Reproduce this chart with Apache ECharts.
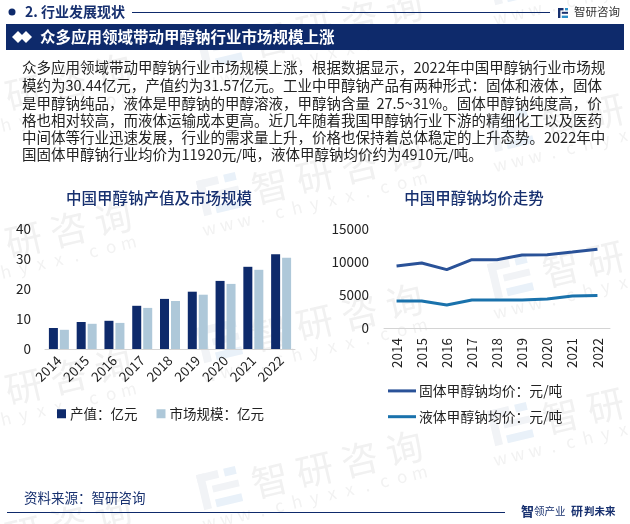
<!DOCTYPE html>
<html>
<head>
<meta charset="utf-8">
<style>
html, body { margin: 0; padding: 0; background: #fff; }
#main { width: 630px; height: 524px; }
</style>
<script src="https://cdn.jsdelivr.net/npm/echarts@6/dist/echarts.min.js"></script>
</head>
<body>
<div id="main"></div>
<script>
var years = ["2014", "2015", "2016", "2017", "2018", "2019", "2020", "2021", "2022"];
var outputValue = [7.0, 9.0, 9.4, 14.4, 16.7, 19.1, 22.7, 27.4, 31.57];
var marketSize = [6.4, 8.4, 8.7, 13.7, 16.0, 18.1, 21.7, 26.4, 30.44];
var solidPrice = [9400, 9850, 8840, 10350, 10350, 11060, 11100, 11500, 11920];
var liquidPrice = [4090, 4090, 3480, 4240, 4240, 4240, 4390, 4850, 4910];
var bodyLines = [
  "众多应用领域带动甲醇钠行业市场规模上涨，根据数据显示，2022年中国甲醇钠行业市场规",
  "模约为30.44亿元，产值约为31.57亿元。工业中甲醇钠产品有两种形式：固体和液体，固体",
  "是甲醇钠纯品，液体是甲醇钠的甲醇溶液，甲醇钠含量  27.5~31%。固体甲醇钠纯度高，价",
  "格也相对较高，而液体运输成本更高。近几年随着我国甲醇钠行业下游的精细化工以及医药",
  "中间体等行业迅速发展，行业的需求量上升，价格也保持着总体稳定的上升态势。2022年中",
  "国固体甲醇钠行业均价为11920元/吨，液体甲醇钠均价约为4910元/吨。"
];
var bodyY = [67, 85, 103, 120, 137, 154];
// 水印位置（logo中心）
var marks = [
  [220, 49], [220, 196], [220, 343], [220, 490],
  [511, -15], [511, 132], [511, 279], [511, 426],
  [-71, -34], [-71, 113], [-71, 260], [-71, 407], [-71, 554]
];

var FONT = '"Noto Sans CJK SC", "Noto Sans", sans-serif';
var NAVY = "#0e2a6b";
var ROT = 0.233;

function txt(x, y, text, size, color, weight, align) {
  return {
    type: "text", x: x, y: y, z: 3,
    style: {
      text: text, fill: color, align: align || "left", verticalAlign: "middle",
      font: (weight || "normal") + " " + size + "px " + FONT
    }
  };
}

function logo(x, y, s, c) {
  return {
    type: "group", x: x, y: y, z: 3,
    children: [
      { type: "rect", z: 3, shape: { x: 0, y: 0, width: s * 0.55, height: s * 0.24 }, style: { fill: c } },
      { type: "rect", z: 3, shape: { x: 0, y: 0, width: s * 0.24, height: s }, style: { fill: c } },
      { type: "rect", z: 3, shape: { x: s * 0.7, y: 0, width: s * 0.3, height: s * 0.24 }, style: { fill: "#2a8fc9" } },
      { type: "rect", z: 3, shape: { x: s * 0.38, y: s * 0.38, width: s * 0.62, height: s * 0.2 }, style: { fill: c } },
      { type: "rect", z: 3, shape: { x: s * 0.38, y: s * 0.76, width: s * 0.62, height: s * 0.24 }, style: { fill: "#2a8fc9" } }
    ]
  };
}

function watermark(p) {
  var kids = [
    { type: "rect", z: 0, shape: { x: -20, y: -20, width: 22, height: 8 }, style: { fill: "#f1f3f6" } },
    { type: "rect", z: 0, shape: { x: -20, y: -20, width: 8, height: 36 }, style: { fill: "#f1f3f6" } },
    { type: "rect", z: 0, shape: { x: -7, y: -6, width: 27, height: 7 }, style: { fill: "#f1f3f6" } },
    { type: "rect", z: 0, shape: { x: -7, y: 8, width: 27, height: 8 }, style: { fill: "#e9f1f9" } },
    { type: "rect", z: 0, shape: { x: 8, y: -20, width: 12, height: 8 }, style: { fill: "#e9f1f9" } }
  ];
  "智研咨询".split("").forEach(function (c, i) {
    kids.push({ type: "text", x: 51 + i * 46, y: 2, z: 0, style: { text: c, fill: "#f1f1f1", align: "center", verticalAlign: "middle", font: "37px " + FONT } });
  });
  "www.chyxx.com".split("").forEach(function (c, i) {
    kids.push({ type: "text", x: -18 + i * 18, y: 29, z: 0, style: { text: c, fill: "#f2f2f2", align: "center", verticalAlign: "middle", font: "17px " + FONT } });
  });
  return { type: "group", x: p[0], y: p[1], rotation: ROT, z: 0, children: kids };
}

var graphics = marks.map(watermark);
graphics.push({ type: "circle", z: 3, shape: { cx: 12, cy: 12, r: 3.5 }, style: { fill: NAVY } });
graphics.push(txt(25, 12, "2. 行业发展现状", 14, "#17306f", "bold"));
graphics.push({ type: "line", z: 3, shape: { x1: 132, y1: 12.5, x2: 550, y2: 12.5 }, style: { stroke: NAVY, lineWidth: 1 } });
graphics.push(logo(558, 8, 10, "#17306f"));
graphics.push(txt(574, 12, "智研咨询", 11.5, "#333"));
graphics.push({ type: "rect", z: 2, shape: { x: 6, y: 24, width: 618, height: 26 }, style: { fill: NAVY } });
graphics.push({ type: "polygon", z: 3, shape: { points: [[18, 31], [24, 37], [18, 43], [12, 37]] }, style: { fill: "#fff" } });
graphics.push({ type: "polygon", z: 3, shape: { points: [[26, 31], [32, 37], [26, 43], [20, 37]] }, style: { fill: "#fff" } });
graphics.push(txt(40, 37.5, "众多应用领域带动甲醇钠行业市场规模上涨", 15.5, "#fff", "bold"));
bodyLines.forEach(function (line, i) {
  graphics.push(txt(22, bodyY[i], line, 14.5, "#222"));
});
graphics.push(txt(24, 498, "资料来源：智研咨询", 13.5, "#17306f"));
graphics.push({ type: "line", z: 3, shape: { x1: 7, y1: 512.5, x2: 505, y2: 512.5 }, style: { stroke: NAVY, lineWidth: 1 } });
graphics.push(txt(521, 511, "智", 13, "#17306f", "bold"));
graphics.push(txt(534, 511, "领产业", 10.5, "#17306f"));
graphics.push(txt(571, 511, "研", 12, "#17306f", "bold"));
graphics.push(txt(584, 511, "判未来", 10.5, "#17306f", "bold"));

var axisText = { color: "#222", fontFamily: FONT, fontSize: 13.5 };

var option = {
  backgroundColor: "#fff",
  animation: false,
  title: [
    { text: "中国甲醇钠产值及市场规模", left: 154, top: 185, textAlign: "center", textStyle: { color: "#17306f", fontFamily: FONT, fontSize: 15.5, fontWeight: 500 } },
    { text: "中国甲醇钠均价走势", left: 469, top: 185, textAlign: "center", textStyle: { color: "#17306f", fontFamily: FONT, fontSize: 15.5, fontWeight: 500 } }
  ],
  legend: [
    {
      data: ["产值：亿元", "市场规模：亿元"], left: 52, top: 402, itemWidth: 9, itemHeight: 9, itemGap: 19,
      icon: "rect", textStyle: { color: "#222", fontFamily: FONT, fontSize: 13.5, padding: [0, 0, 0, -1] }
    },
    {
      data: ["固体甲醇钠均价：元/吨", "液体甲醇钠均价：元/吨"], left: 383, top: 379, orient: "vertical",
      itemWidth: 28, itemHeight: 3, itemGap: 12, icon: "rect",
      textStyle: { color: "#222", fontFamily: FONT, fontSize: 13.8, padding: [0, 0, 0, -2] }
    }
  ],
  grid: [
    { left: 45, top: 229, width: 250, height: 120 },
    { left: 384, top: 229, width: 226, height: 99 }
  ],
  xAxis: [
    {
      type: "category", gridIndex: 0, data: years,
      axisLine: { lineStyle: { color: "#d4d4d4" } }, axisTick: { show: false },
      axisLabel: Object.assign({ rotate: 45, interval: 0, margin: 9 }, axisText)
    },
    {
      type: "category", gridIndex: 1, data: years,
      axisLine: { lineStyle: { color: "#d4d4d4" } }, axisTick: { show: false },
      axisLabel: Object.assign({ rotate: 90, interval: 0, margin: 10 }, axisText)
    }
  ],
  yAxis: [
    {
      type: "value", gridIndex: 0, min: 0, max: 40, interval: 10,
      axisLine: { show: false }, axisTick: { show: false }, splitLine: { show: false },
      axisLabel: Object.assign({ margin: 14 }, axisText)
    },
    {
      type: "value", gridIndex: 1, min: 0, max: 15000, interval: 5000,
      axisLine: { show: false }, axisTick: { show: false }, splitLine: { show: false },
      axisLabel: Object.assign({ margin: 15, formatter: function (v) { return String(v); } }, axisText)
    }
  ],
  series: [
    { name: "产值：亿元", type: "bar", xAxisIndex: 0, yAxisIndex: 0, data: outputValue, barWidth: 9, barGap: "22%", itemStyle: { color: NAVY } },
    { name: "市场规模：亿元", type: "bar", xAxisIndex: 0, yAxisIndex: 0, data: marketSize, barWidth: 9, barGap: "22%", itemStyle: { color: "#aec8d9" } },
    { name: "固体甲醇钠均价：元/吨", type: "line", xAxisIndex: 1, yAxisIndex: 1, data: solidPrice, symbol: "none", lineStyle: { color: "#2a5298", width: 3 }, itemStyle: { color: "#2a5298" } },
    { name: "液体甲醇钠均价：元/吨", type: "line", xAxisIndex: 1, yAxisIndex: 1, data: liquidPrice, symbol: "none", lineStyle: { color: "#1a72ac", width: 3 }, itemStyle: { color: "#1a72ac" } }
  ],
  graphic: { elements: graphics }
};

var chart = echarts.init(document.getElementById("main"), null, { renderer: "canvas" });
chart.setOption(option);
</script>
</body>
</html>
